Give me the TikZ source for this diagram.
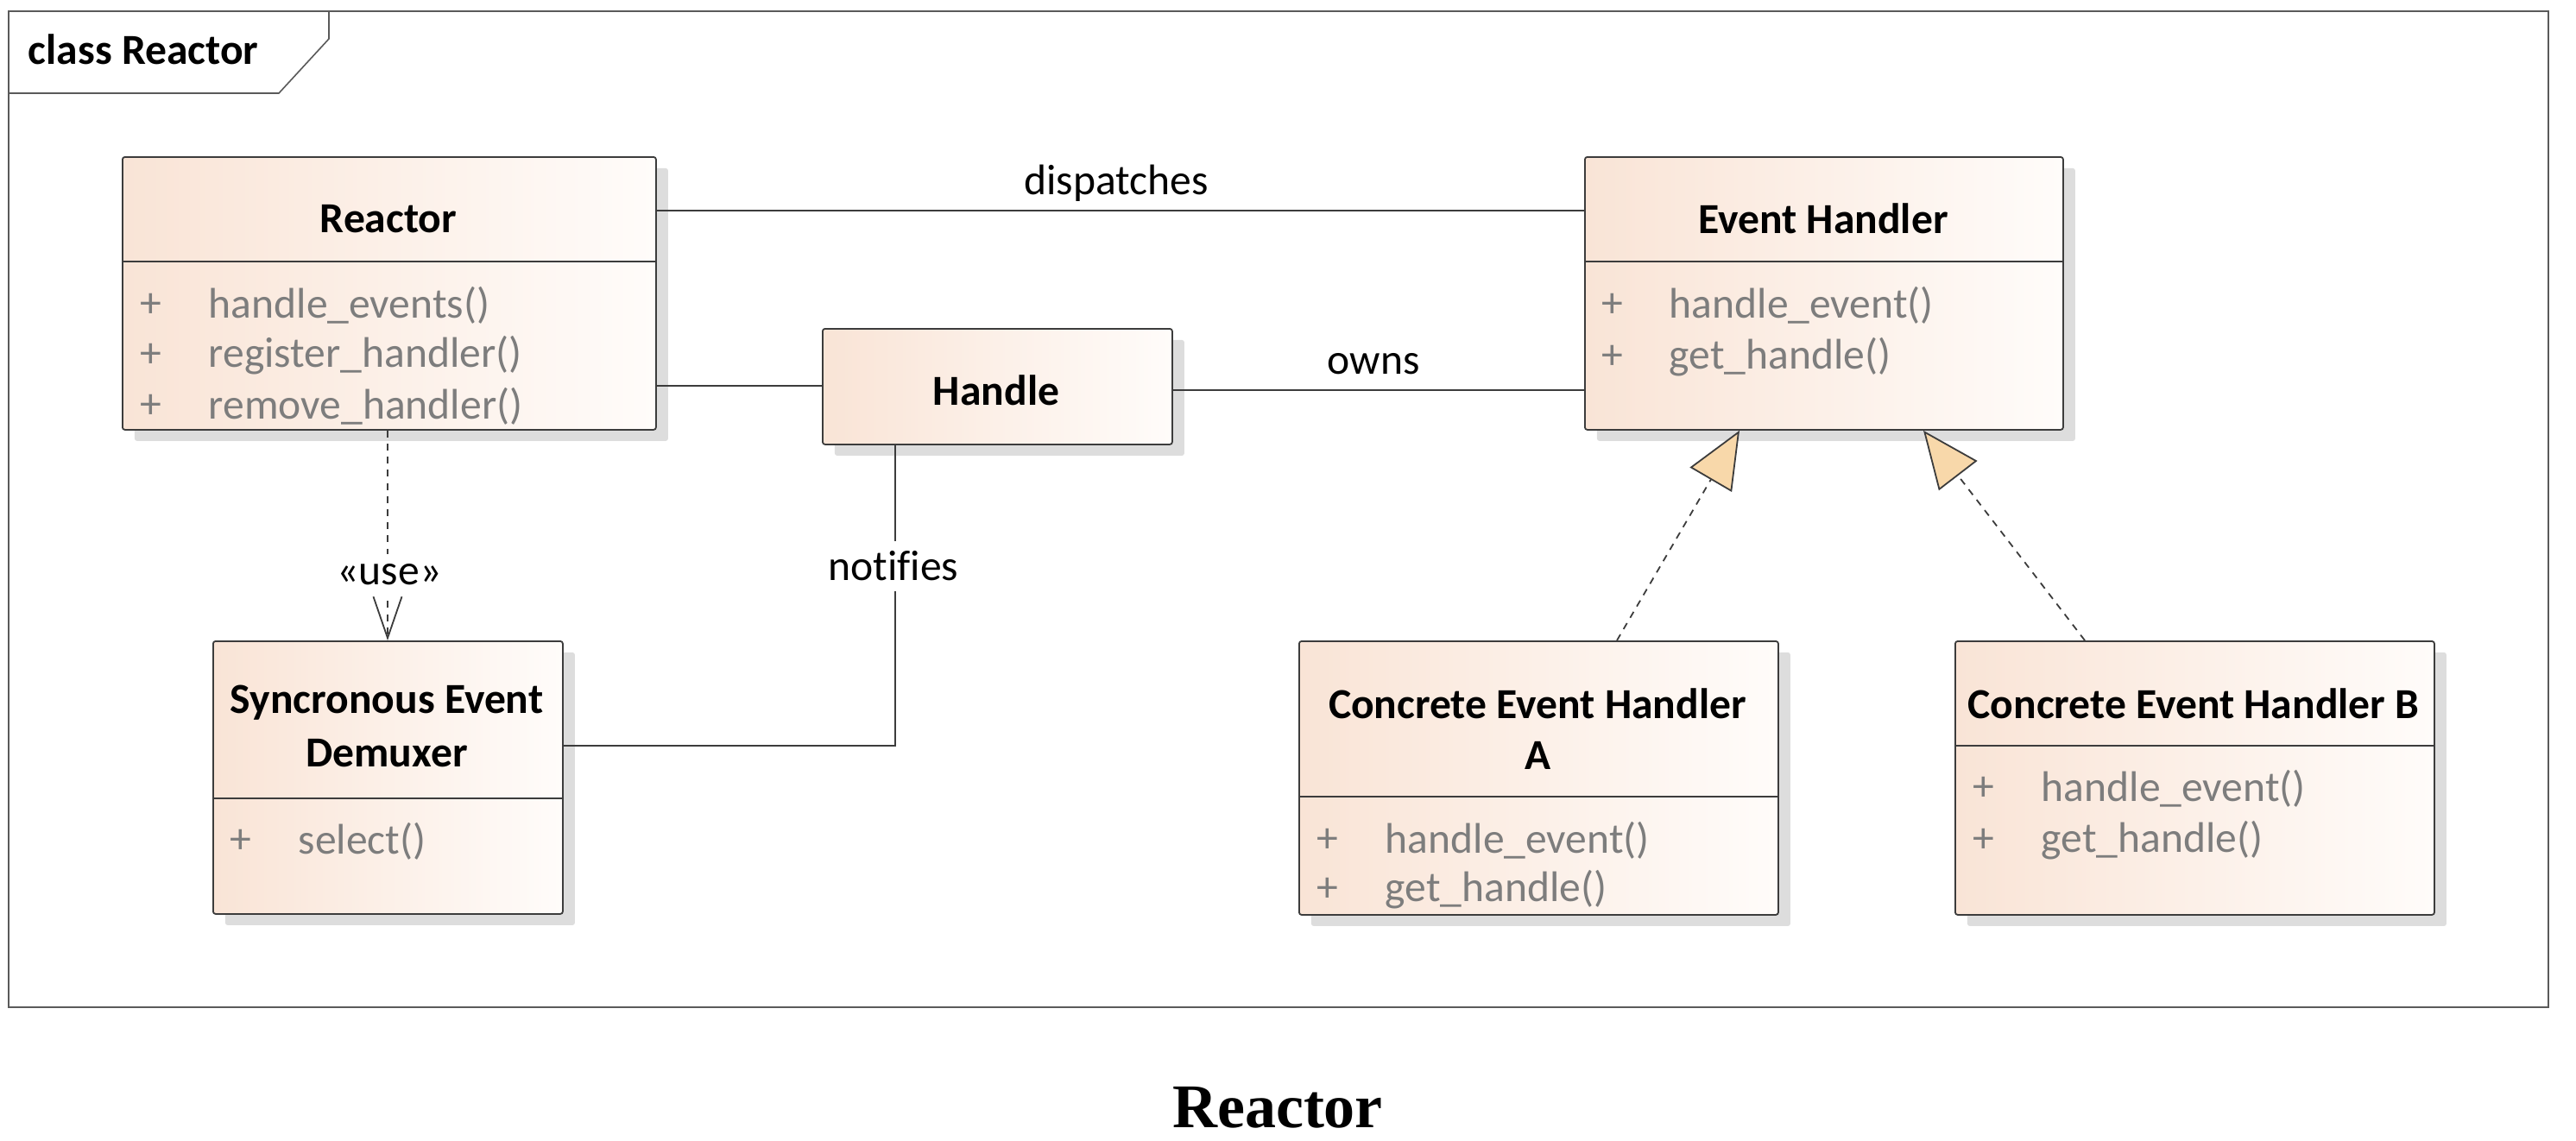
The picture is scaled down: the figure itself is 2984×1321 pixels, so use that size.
\documentclass[tikz,border=0pt]{standalone}
\usepackage{fontspec}
\setmainfont{Carlito}[Ligatures=NoCommon]
\newfontfamily\capfont{Liberation Serif}
\usetikzlibrary{arrows.meta,shadows}
\definecolor{peach}{RGB}{249,228,214}
\definecolor{nwhite}{RGB}{255,252,250}
\definecolor{shadowgray}{RGB}{221,221,221}
\definecolor{edge}{RGB}{60,60,60}
\definecolor{framec}{RGB}{90,90,90}
\definecolor{tanfill}{RGB}{248,216,170}
\definecolor{attr}{RGB}{125,125,125}
\begin{document}
\begin{tikzpicture}[x=0.25pt,y=-0.25pt,
  font=\fontsize{12.4}{15}\selectfont,
  classbox/.style={draw=edge, line width=0.45pt, rounded corners=0.7pt,
    left color=peach, right color=nwhite, anchor=north west, inner sep=0pt,
    drop shadow={shadow xshift=3.5pt, shadow yshift=-3.25pt, fill=shadowgray, opacity=1}},
  divider/.style={draw=edge, line width=0.45pt},
  ctitle/.style={font=\fontsize{12.4}{15}\selectfont\bfseries, inner sep=0pt},
  plus/.style={text=attr, inner sep=0pt},
  member/.style={text=attr, anchor=west, inner sep=0pt},
  conn/.style={draw=edge, line width=0.45pt},
  dep/.style={draw=edge, line width=0.45pt, dash pattern=on 2pt off 1.8pt},
  lbl/.style={inner sep=0pt},
  lblw/.style={fill=white, inner sep=3pt},
  realtip/.style={-{Triangle[length=16.5pt, width=14pt, fill=tanfill]}},
  usetip/.style={-{Straight Barb[length=12pt, width=8.25pt]}}
]
\useasboundingbox (0,0) rectangle (2984,1321);

% frame
\draw[framec, line width=0.4pt] (10,13) rectangle (2952,1167);
\draw[framec, line width=0.4pt] (10,108) -- (323,108) -- (381,45) -- (381,13);
\node[ctitle, anchor=west] (frametitle) at (32,57) {class Reactor};

% classes
\node[classbox, minimum width=154.5pt, minimum height=79pt] (reactor) at (141,181) {};
\node[classbox, minimum width=101.25pt, minimum height=33.5pt] (handle) at (952,380) {};
\node[classbox, minimum width=138.5pt, minimum height=79pt] (eh) at (1835,181) {};
\node[classbox, minimum width=101.25pt, minimum height=79pt] (demux) at (246,742) {};
\node[classbox, minimum width=138.75pt, minimum height=79.25pt] (ceha) at (1504,742) {};
\node[classbox, minimum width=138.75pt, minimum height=79.25pt] (cehb) at (2264,742) {};

% Reactor
\node[ctitle] (reactorT) at (450,254) {Reactor};
\draw[divider] (141,303) -- (759,303);
\node[plus] (rp1) at (175,354) {+};
\node[member] (rm1) at (241,354) {handle\_events()};
\node[plus] (rp2) at (175,412) {+};
\node[member] (rm2) at (241,412) {register\_handler()};
\node[plus] (rp3) at (175,471) {+};
\node[member] (rm3) at (241,471) {remove\_handler()};

% Handle
\node[ctitle] (handleT) at (1154,452) {Handle};

% Event Handler
\node[ctitle] (ehT) at (2112,253) {Event Handler};
\draw[divider] (1835,303) -- (2389,303);
\node[plus] (ep1) at (1868,354) {+};
\node[member] (em1) at (1933,354) {handle\_event()};
\node[plus] (ep2) at (1868,414) {+};
\node[member] (em2) at (1933,414) {get\_handle()};

% Demuxer
\node[ctitle] (demuxT1) at (448,814) {Syncronous Event};
\node[ctitle] (demuxT2) at (448,873) {Demuxer};
\draw[divider] (246,925) -- (651,925);
\node[plus] (dp1) at (279,975) {+};
\node[member] (dm1) at (345,975) {select()};

% Concrete A
\node[ctitle] (caT1) at (1781,815) {Concrete Event Handler};
\node[ctitle] (caT2) at (1781,875) {A};
\draw[divider] (1504,923) -- (2059,923);
\node[plus] (ap1) at (1538,974) {+};
\node[member] (am1) at (1604,974) {handle\_event()};
\node[plus] (ap2) at (1538,1031) {+};
\node[member] (am2) at (1604,1031) {get\_handle()};

% Concrete B
\node[ctitle] (cbT) at (2541,815) {Concrete Event Handler B};
\draw[divider] (2264,864) -- (2819,864);
\node[plus] (bp1) at (2298,914) {+};
\node[member] (bm1) at (2364,914) {handle\_event()};
\node[plus] (bp2) at (2298,974) {+};
\node[member] (bm2) at (2364,974) {get\_handle()};

% connectors
\draw[conn] (reactor.east |- 0,244) -- (eh.west |- 0,244);
\node[lbl] (ldisp) at (1293,212) {dispatches};
\draw[conn] (reactor.east |- 0,447) -- (handle.west |- 0,447);
\draw[conn] (handle.east |- 0,452) -- (eh.west |- 0,452);
\node[lbl] (lowns) at (1591,422) {owns};
\draw[conn] (handle.south -| 1037,0) |- (demux.east |- 0,864);
\node[lblw] (lnotif) at (1035,656) {notifies};
\draw[dep, usetip] (reactor.south -| 449,0) -- (demux.north -| 449,0);
\node[lblw] (luse) at (451,666) {«use»};
\draw[dep, realtip] (ceha.north -| 1873,0) -- (eh.south -| 2015,0);
\draw[dep, realtip] (cehb.north -| 2415,0) -- (eh.south -| 2228,0);

% caption
\node[font=\capfont\bfseries\fontsize{18}{20}\selectfont, anchor=base, inner sep=0pt] (caption) at (1480,1306) {Reactor};
\end{tikzpicture}
\end{document}
